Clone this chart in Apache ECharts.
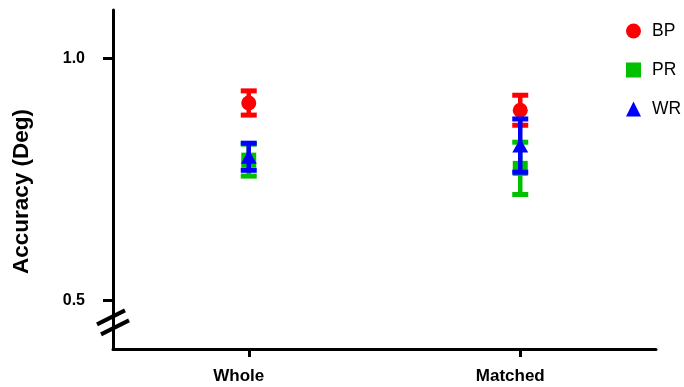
<!DOCTYPE html>
<html>
<head>
<meta charset="utf-8">
<script src="https://cdn.jsdelivr.net/npm/echarts@6/dist/echarts.min.js"></script>
<style>
  html, body { margin: 0; padding: 0; background: #fff; }
  #chart { width: 684px; height: 387px; }
</style>
</head>
<body>
<div id="chart"></div>
<script>
// Conditions along the x axis
const categories = ['Whole', 'Matched'];

// Group names (legend order)
const groupNames = ['BP', 'PR', 'WR'];

// Mean accuracy per condition and its error (±)
const bpMean = [0.908, 0.893];
const bpErr  = [0.025, 0.031];
const prMean = [0.790, 0.773];
const prErr  = [0.033, 0.054];
const wrMean = [0.797, 0.820];
const wrErr  = [0.028, 0.055];

// Labelled ticks on the y axis
const yTicks = [0.5, 1.0];

const FONT = '"Liberation Sans", Arial, sans-serif';

const groups = [
  { name: groupNames[0], mean: bpMean, err: bpErr, color: '#FF0000', symbol: 'circle',   size: 15 },
  { name: groupNames[1], mean: prMean, err: prErr, color: '#00C000', symbol: 'rect',     size: 15 },
  { name: groupNames[2], mean: wrMean, err: wrErr, color: '#0000FF', symbol: 'triangle', size: [16, 14] }
];

// Each condition sits at an odd position on a 0..4 axis
const xPos = categories.map((c, i) => 1 + 2 * i);

const chart = echarts.init(document.getElementById('chart'), null, { renderer: 'canvas' });

const series = [];
groups.forEach((g, k) => {
  series.push({
    name: g.name + ' error',
    type: 'custom',
    z: 2 + 2 * k,
    data: g.mean.map((m, i) => [xPos[i], m, g.err[i]]),
    renderItem: function (params, api) {
      const x = api.value(0), m = api.value(1), e = api.value(2);
      const top = api.coord([x, m + e]);
      const bot = api.coord([x, m - e]);
      const capW = 8;
      return {
        type: 'group',
        children: [
          { type: 'line', shape: { x1: top[0], y1: top[1], x2: bot[0], y2: bot[1] }, style: { stroke: g.color, lineWidth: 4.5 } },
          { type: 'line', shape: { x1: top[0] - capW, y1: top[1], x2: top[0] + capW, y2: top[1] }, style: { stroke: g.color, lineWidth: 5 } },
          { type: 'line', shape: { x1: bot[0] - capW, y1: bot[1], x2: bot[0] + capW, y2: bot[1] }, style: { stroke: g.color, lineWidth: 5 } }
        ]
      };
    },
    silent: true
  });
  series.push({
    name: g.name,
    type: 'scatter',
    z: 3 + 2 * k,
    symbol: g.symbol,
    symbolSize: g.size,
    itemStyle: { color: g.color, opacity: 1 },
    data: g.mean.map((m, i) => [xPos[i], m])
  });
});

const axisLine = { show: true, lineStyle: { color: '#000', width: 3 } };

chart.setOption({
  animation: false,
  backgroundColor: '#fff',
  grid: { left: 113, right: 28, top: 10, bottom: 38, containLabel: false },
  legend: {
    orient: 'vertical',
    left: 621,
    top: 17,
    itemWidth: 15,
    itemHeight: 15,
    itemGap: 21,
    selectedMode: false,
    data: groups.map(g => ({ name: g.name, icon: g.symbol })),
    textStyle: { fontFamily: FONT, fontSize: 17.5, color: '#000', lineHeight: 16, padding: [0, 0, 0, 6] }
  },
  xAxis: {
    type: 'value',
    min: 0,
    max: 4,
    interval: 1,
    splitLine: { show: false },
    axisLine: axisLine,
    axisTick: { show: true, length: 8, lineStyle: { color: '#000', width: 3 }, customValues: xPos },
    axisLabel: {
      customValues: xPos,
      formatter: v => categories[(v - 1) / 2] || '',
      fontFamily: FONT, fontSize: 17, fontWeight: 'bold', color: '#000', margin: 19,
      padding: [0, 20, 0, 0]
    }
  },
  yAxis: {
    type: 'value',
    min: 0.4,
    max: 1.1,
    name: 'Accuracy (Deg)',
    nameLocation: 'middle',
    nameRotate: 90,
    nameGap: 80,
    nameTextStyle: { fontFamily: FONT, fontSize: 22.5, fontWeight: 'bold', color: '#000', padding: [0, 24, 0, 0] },
    splitLine: { show: false },
    axisLine: axisLine,
    axisTick: { show: true, length: 10, lineStyle: { color: '#000', width: 3 }, customValues: yTicks },
    axisLabel: {
      customValues: yTicks,
      formatter: v => v.toFixed(1),
      fontFamily: FONT, fontSize: 16, fontWeight: 'bold', color: '#000', margin: 28
    }
  },
  series: series
});

// Axis break marks: two short parallel slashes across the y axis just below 0.5
function drawBreak() {
  const ax = chart.convertToPixel({ xAxisIndex: 0 }, 0);
  const yc = chart.convertToPixel({ yAxisIndex: 0 }, 0.455);
  const dx = 14, dy = 7, sep = 5;
  const mk = (off) => ({
    type: 'line',
    shape: {
      x1: ax + off * 0.4 - dx, y1: yc + off + dy,
      x2: ax + off * 0.4 + dx, y2: yc + off - dy
    },
    style: { stroke: '#000', lineWidth: 4 },
    z: 100
  });
  chart.setOption({
    graphic: [
      { type: 'group', children: [mk(-sep), mk(sep)] }
    ]
  });
}
drawBreak();
</script>
</body>
</html>
